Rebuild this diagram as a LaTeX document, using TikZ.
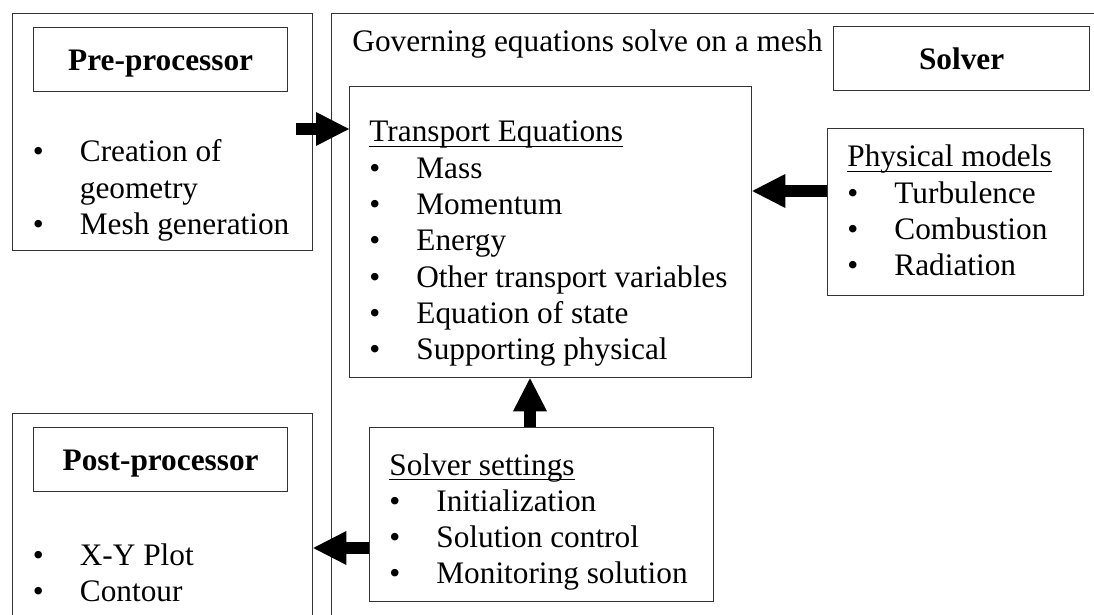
\documentclass[tikz,border=0pt]{standalone}
\usepackage{fontspec}
\setmainfont{Liberation Serif}
\usetikzlibrary{arrows.meta,calc}

% bullet item and word-style underline
\newcommand\itm{\makebox[23.5pt][l]{•}}
\newcommand\undl[1]{\setbox0\hbox{#1}\rlap{\rule[-2.5pt]{\wd0}{0.65pt}}\box0}

\tikzset{
  panel/.style={draw=black!80, line width=0.65pt, inner sep=0pt, anchor=north west},
  titlebox/.style={panel, font=\bfseries, text height=12pt, text depth=1pt,
    minimum width=127pt, minimum height=32pt},
  txt/.style={inner sep=0pt, anchor=base west, align=left},
  bigarrow/.style={line width=6pt, line cap=butt,
    -{Triangle[length=16.5pt, width=17pt, line width=0pt]}}
}

\begin{document}
\fontsize{15.65pt}{18.15pt}\selectfont
\begin{tikzpicture}[x=0.5pt, y=-0.5pt]
\clip (0,0) rectangle (1094,615);
\fill[white] (0,0) rectangle (1094,615);

% outer frames
\node[panel, minimum width=150pt, minimum height=118.5pt] (pre) at (12,13) {};
\node[panel, minimum width=389.5pt, minimum height=313.5pt] (solver) at (331,13) {};
\node[panel, minimum width=150pt, minimum height=113.5pt] (post) at (12,413) {};

% title boxes
\node[titlebox] (pretitle) at (33,27) {Pre-processor};
\node[titlebox, minimum width=128pt] (soltitle) at (833,26) {Solver};
\node[titlebox] (posttitle) at (33,427) {Post-processor};

% inner boxes of the solver
\node[panel, minimum width=201pt, minimum height=145.5pt] (tr) at (349,86) {};
\node[panel, minimum width=128pt, minimum height=83.5pt] (pm) at (827,128) {};
\node[panel, minimum width=172pt, minimum height=87pt] (ss) at (369,427) {};

% texts
\node[txt] (gov) at (352,52) {Governing equations solve on a mesh};

\node[txt] (prelist) at (32.5,162) {\begin{tabular}[t]{@{}l@{}}
\itm Creation of\\ \hspace{23.5pt}geometry\\ \itm Mesh generation\end{tabular}};

\node[txt] (trlist) at (369,142) {\begin{tabular}[t]{@{}l@{}}
\undl{Transport Equations}\\
\itm Mass\\ \itm Momentum\\ \itm Energy\\ \itm Other transport variables\\
\itm Equation of state\\ \itm Supporting physical\end{tabular}};

\node[txt] (pmlist) at (847,167) {\begin{tabular}[t]{@{}l@{}}
\undl{Physical models}\\ \itm Turbulence\\ \itm Combustion\\ \itm Radiation\end{tabular}};

\node[txt] (sslist) at (389,475) {\begin{tabular}[t]{@{}l@{}}
\undl{Solver settings}\\ \itm Initialization\\ \itm Solution control\\
\itm Monitoring solution\end{tabular}};

\node[txt] (postlist) at (32.5,565) {\begin{tabular}[t]{@{}l@{}}
\itm X-Y Plot\\ \itm Contour\end{tabular}};

% connectors
\coordinate (a1) at ($(pre.north east)+(-17,116)$);
\draw[bigarrow] (a1) -- (a1 -| tr.west);

\coordinate (a2) at ($(pm.north west)+(0,63)$);
\draw[bigarrow] (a2) -- (a2 -| tr.east);

\coordinate (a3) at ($(ss.north west)+(161,0)$);
\draw[bigarrow] (a3) -- (a3 |- tr.south);

\coordinate (a4) at ($(ss.north west)+(0,121)$);
\draw[bigarrow] (a4) -- (a4 -| post.east);
\end{tikzpicture}
\end{document}
